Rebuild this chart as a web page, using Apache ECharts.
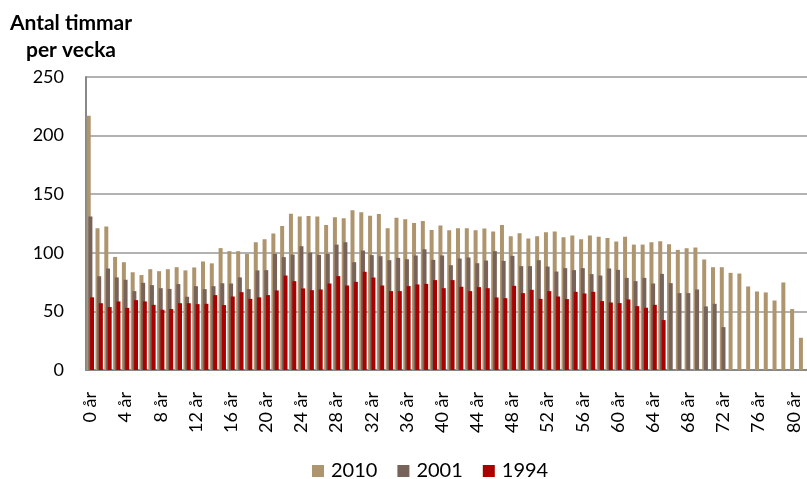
<!DOCTYPE html>
<html lang="sv">
<head>
<meta charset="UTF-8">
<title>Antal timmar per vecka</title>
<script src="https://cdn.jsdelivr.net/npm/echarts@6/dist/echarts.min.js"></script>
<style>
  html, body { margin: 0; padding: 0; background: #fff; }
  #main { width: 807px; height: 479px; }
</style>
</head>
<body>
<div id="main"></div>
<script>
// age 0..81
var ages = [];
for (var a = 0; a <= 81; a++) { ages.push(a + ' år'); }

var years = ['2010', '2001', '1994'];

var h2010 = [217, 121, 122.5, 96.5, 92, 83.4, 81, 86, 84.3, 86,
             87.7, 85, 87.5, 92.6, 91, 104, 101.4, 101.4, 99, 109,
             111.6, 116.4, 122.9, 133.4, 130.9, 131.5, 130.9, 123.8, 130.3, 129.5,
             136.3, 134.6, 131.7, 133.2, 121, 129.8, 128.6, 125.5, 127.2, 119.5,
             123.2, 119.3, 121, 121, 119.3, 120.7, 118.1, 123.8, 114.1, 116.7,
             112.2, 114.1, 117.5, 118.1, 113.3, 114.7, 111.6, 114.7, 113.8, 112.7,
             109.6, 113.8, 107, 107, 109, 109.9, 107.3, 102.5, 103.9, 104.5,
             94.3, 87.7, 87.7, 82.9, 82.3, 71.3, 67, 66.2, 59.3, 74.7,
             52, 27.5];

var h2001 = [131, 80, 86.6, 79, 77, 67.3, 74.4, 72.4, 69.8, 69.2,
             73.3, 62.5, 71.5, 69, 71.5, 74, 73.8, 79, 69, 85,
             85.2, 99.1, 96.3, 98.5, 105.6, 100.2, 98.2, 99.1, 107, 109,
             92, 101.9, 98, 97.1, 93.7, 95.7, 94.5, 97.7, 103, 94,
             97.7, 89.4, 95.1, 96, 91.1, 93.4, 101.4, 93.1, 97.4, 88.6,
             88.6, 93.7, 88.3, 84, 86.9, 85.2, 86.9, 81.8, 80.6, 86.6,
             85.4, 78.6, 75.8, 78.6, 73.8, 82, 74.1, 65.6, 65.6, 68.7,
             54.2, 56.5, 36.6];

var h1994 = [62, 57, 53.7, 58.5, 53, 59.6, 58.5, 55.6, 51.4, 52,
             57, 57, 56.2, 56.5, 63.9, 55.4, 62.7, 66.4, 60.7, 62,
             63.9, 67.9, 80.6, 75.8, 69.6, 68.1, 68.7, 73.8, 80.1, 72.1,
             75.2, 83.8, 78.9, 72.1, 67.3, 67.3, 71.6, 73, 73.5, 76.7,
             69.8, 76.7, 71, 67.3, 70.7, 69.8, 61.9, 61.3, 71.8, 65.6,
             68.4, 60.7, 67.3, 62.7, 60.5, 66.7, 65.3, 66.7, 58.8, 57.6,
             57.1, 60.2, 54.5, 53.1, 55.6, 42.6];

var colors = ['#AE956E', '#77635A', '#AA0000'];
var font = 'Lato';

var chart = echarts.init(document.getElementById('main'));

chart.setOption({
    animation: false,
    color: colors,
    textStyle: { fontFamily: font, color: '#000' },
    grid: { left: 86, right: 0, top: 77, bottom: 109, containLabel: false },
    graphic: [{
        type: 'text',
        x: 71,
        y: 10,
        style: {
            text: 'Antal timmar\nper vecka',
            textAlign: 'center',
            textVerticalAlign: 'top',
            font: 'bold 21px Lato',
            lineHeight: 27,
            fill: '#000'
        }
    }],
    legend: {
        data: years,
        left: 307,
        top: 456,
        icon: 'rect',
        itemWidth: 12,
        itemHeight: 12,
        itemGap: 20,
        textStyle: { fontFamily: font, fontSize: 20, color: '#000', padding: [0, 0, 0, 2] }
    },
    xAxis: {
        type: 'category',
        data: ages,
        axisLine: { lineStyle: { color: '#888', width: 2 } },
        axisTick: { show: false },
        axisLabel: {
            interval: 3,
            rotate: 90,
            margin: 22,
            fontSize: 18,
            color: '#000',
            fontFamily: font
        }
    },
    yAxis: {
        type: 'value',
        min: 0,
        max: 250,
        interval: 50,
        axisLine: { show: true, lineStyle: { color: '#888', width: 2 } },
        axisTick: { show: false },
        axisLabel: { margin: 22, fontSize: 18, color: '#000', fontFamily: font },
        splitLine: { lineStyle: { color: '#999', width: 1.5 } }
    },
    series: [
        { name: '2010', type: 'bar', data: h2010, barWidth: 4, barGap: '-58%' },
        { name: '2001', type: 'bar', data: h2001, barWidth: 4, barGap: '-58%' },
        { name: '1994', type: 'bar', data: h1994, barWidth: 4, barGap: '-58%' }
    ]
});
</script>
</body>
</html>
